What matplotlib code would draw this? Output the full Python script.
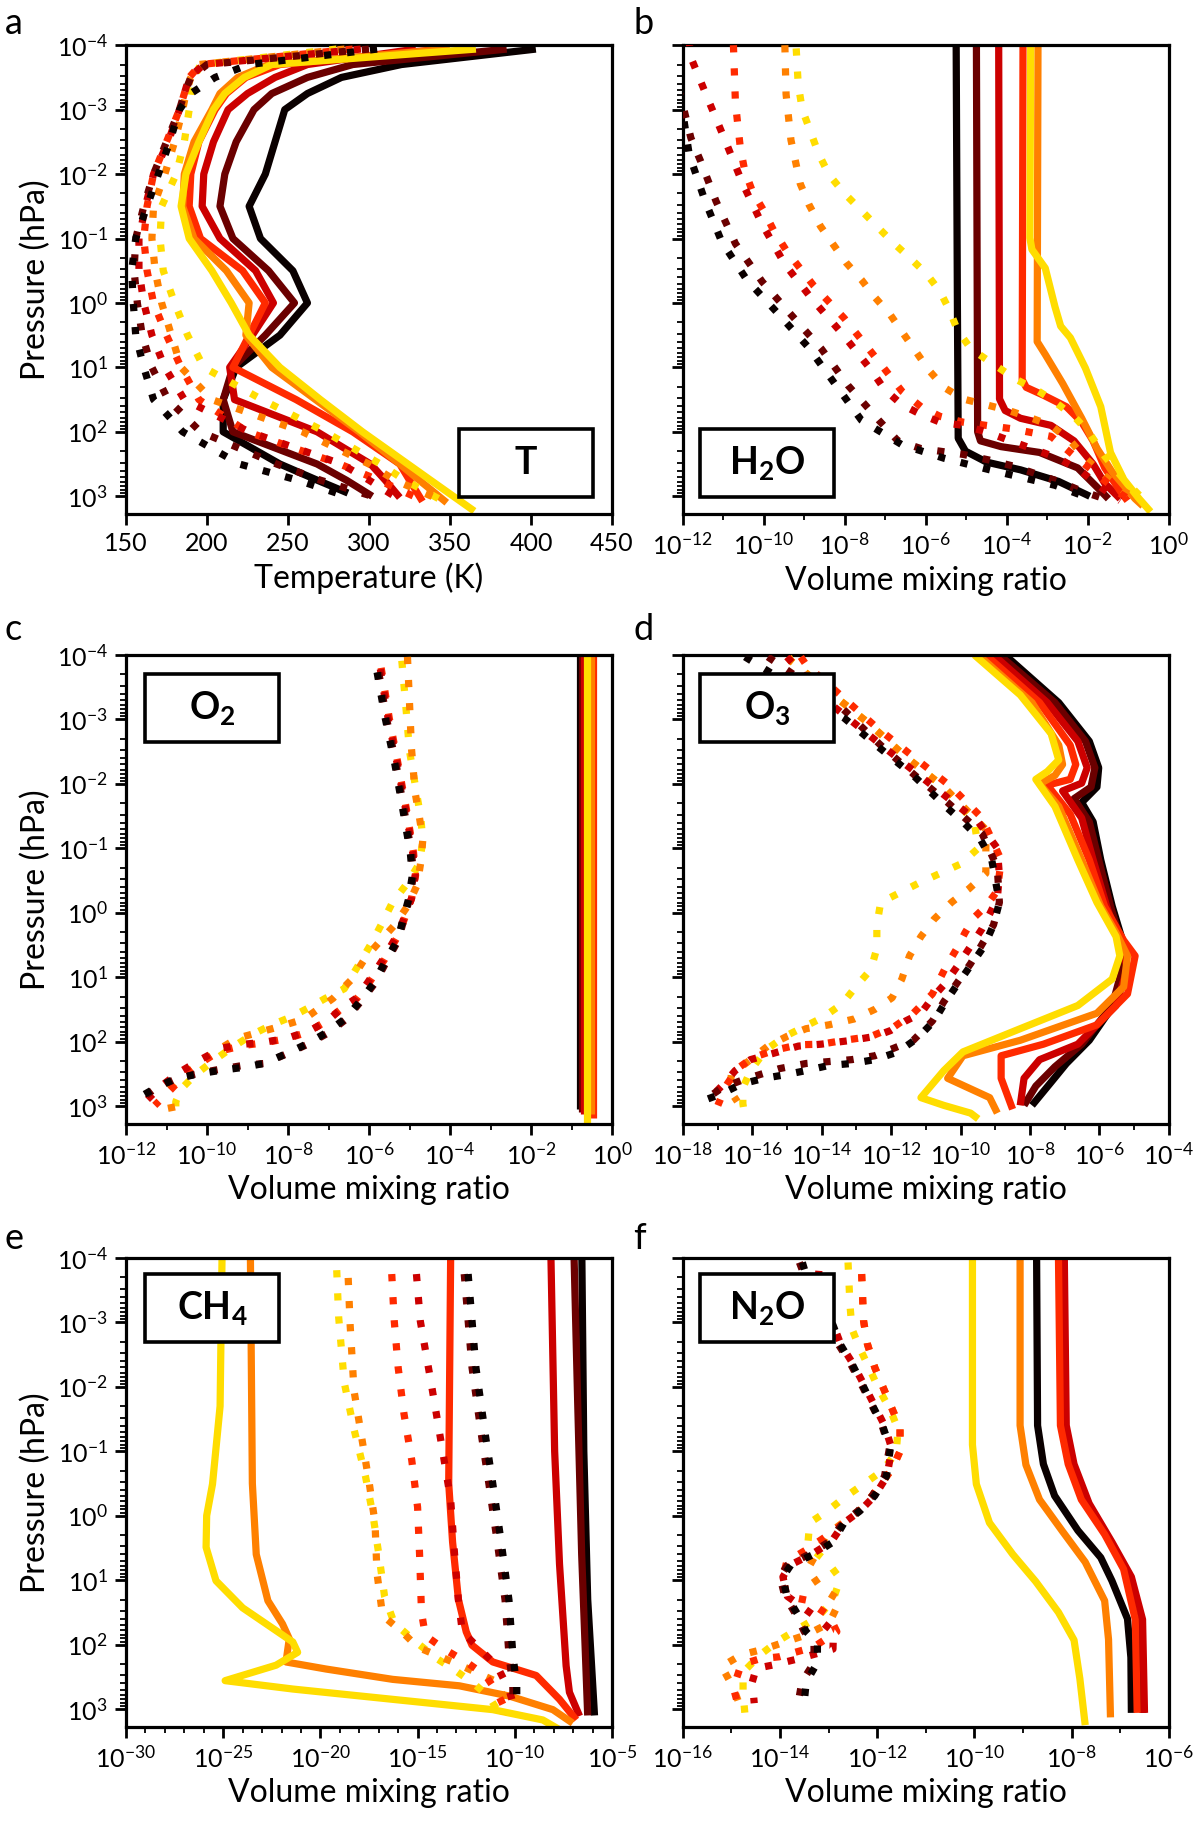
import matplotlib
matplotlib.use("Agg")
import matplotlib.pyplot as plt
import numpy as np
from matplotlib.patches import Rectangle
from matplotlib.ticker import LogLocator, NullFormatter

plt.rcParams["font.family"] = ["Lato", "DejaVu Sans"]
plt.rcParams["mathtext.fontset"] = "custom"
plt.rcParams["mathtext.rm"] = "Lato"
plt.rcParams["mathtext.it"] = "Lato:italic"
plt.rcParams["mathtext.bf"] = "Lato:bold"

# line colours, coolest (black) to hottest (yellow)
COLORS = ["#0a0000", "#6b0000", "#cc0000", "#ff2a00", "#ff8000", "#ffdd00"]

# ---- panel a: temperature (K) on a shared log10 pressure grid ----
T_LOGP = [-3.94, -3.7, -3.5, -3.25, -3.0, -2.5, -2.0, -1.5, -1.0, -0.5,
          0.0, 0.5, 1.0, 1.5, 2.0, 2.5, 2.75]
T_SOLID = [
    [403, 320, 283, 262, 248, 242, 236, 226, 233, 253, 262, 245, 218, 210, 210, 245, 268],
    [385, 290, 262, 240, 229, 218, 211, 208, 216, 238, 254, 236, 216, 210, 216, 268, 286],
    [329, 262, 242, 225, 213, 204, 198, 197, 208, 230, 241, 228, 214, 217, 268, 301, 310],
    [345, 245, 224, 212, 205, 195, 190, 189, 196, 222, 236, 226, 216, 255, 290, 319, 325],
    [350, 238, 219, 208, 203, 192, 186, 185, 192, 212, 226, 224, 240, 267, 294, 319, 331],
    [366, 240, 223, 211, 204, 195, 187, 184, 189, 203, 215, 226, 245, 270, 296, 324, 338],
]
T_SOLID_SURF = [(2.95, 287), (3.0, 302), (3.02, 319), (3.08, 333), (3.1, 348), (3.23, 365)]
T_DOTTED = [
    [305, 226, 205, 190, 183, 177, 170, 163, 156, 153.5, 154.5, 156, 161, 167, 185, 220, 256],
    [300, 200, 190, 186, 183, 175, 167, 161, 156, 155, 157, 160, 166, 176, 196, 243, 270],
    [295, 198, 189, 186, 183, 176, 167, 162, 158, 158, 161, 166, 174, 186, 226, 283, 300],
    [290, 196, 189, 186, 183, 175, 167, 163, 161, 163, 167, 175, 184, 195, 225, 282, 306],
    [285, 195, 190, 187, 185, 180, 174, 167, 166, 168, 172, 178, 184, 203, 259, 300, 316],
    [280, 196, 192, 190, 189, 186, 181, 172, 171, 173, 180, 188, 198, 234, 273, 307, 322],
]
T_DOTTED_SURF = [(3.0, 286), (3.0, 302), (3.02, 317), (3.05, 332), (3.08, 346), (3.12, 349)]

# ---- panels b-f: (log10 pressure [hPa], log10 volume mixing ratio) ----
H2O_SOLID = [
    [(-4, -5.25), (0, -5.22), (2.1, -5.2), (2.3, -5.02), (2.47, -4.5), (2.59, -3.66), (2.77, -2.72), (3.0, -1.95)],
    [(-4, -4.75), (2.0, -4.72), (2.14, -4.65), (2.23, -4.14), (2.32, -3.19), (2.56, -2.25), (2.86, -1.77), (3.04, -1.49)],
    [(-4, -4.2), (1.49, -4.18), (1.67, -4.04), (1.79, -3.66), (1.9, -2.91), (2.14, -2.34), (2.5, -1.87), (2.8, -1.58), (3.04, -1.2)],
    [(-4, -3.6), (1.19, -3.62), (1.31, -3.52), (1.43, -3.1), (1.61, -2.53), (1.85, -2.15), (2.14, -1.87), (2.56, -1.58), (2.92, -1.2), (3.07, -1.02)],
    [(-4, -3.23), (0.6, -3.25), (0.8, -3.05), (1.25, -2.62), (1.79, -2.15), (2.26, -1.77), (2.62, -1.4), (3.04, -0.83), (3.15, -0.64)],
    [(-4, -3.41), (-1.01, -3.43), (-0.83, -3.38), (-0.54, -3.05), (0.06, -2.81), (0.36, -2.67), (0.54, -2.43), (1.01, -2.06),
     (1.61, -1.68), (2.32, -1.44), (2.74, -1.11), (3.04, -0.73), (3.24, -0.45)],
]
H2O_DOTTED = [
    [(-3.5, -12.3), (-2.95, -12.0), (-2.3, -11.84), (-1.6, -11.46), (-0.95, -11.04), (-0.36, -10.42), (0.15, -9.67), (0.68, -8.91),
     (1.25, -8.25), (1.82, -7.59), (2.2, -6.59), (2.41, -5.55), (2.59, -4.42), (2.83, -2.81), (3.04, -1.92)],
    [(-4, -12.5), (-3.2, -12.05), (-2.56, -11.8), (-2.2, -11.56), (-1.58, -11.18), (-0.92, -10.7), (-0.33, -10.04), (0.18, -9.33),
     (0.71, -8.58), (1.28, -7.92), (1.82, -7.16), (2.14, -6.69), (2.26, -6.12), (2.35, -5.08), (2.44, -4.42), (2.53, -3.85),
     (2.65, -3.29), (2.77, -2.72), (2.92, -2.15), (3.04, -1.58)],
    [(-4.1, -11.85), (-3.81, -11.8), (-3.15, -11.37), (-2.5, -10.94), (-1.85, -10.52), (-1.22, -10.04), (-0.6, -9.48),
     (-0.06, -8.81), (0.48, -8.06), (1.04, -7.35), (1.34, -7.02), (1.58, -6.59), (1.73, -6.12), (1.85, -5.65), (1.9, -5.08),
     (2.0, -4.51), (2.11, -4.04), (2.26, -3.38), (2.41, -2.72), (2.62, -2.15), (2.86, -1.68), (3.07, -1.2)],
    [(-4.0, -10.75), (-3.1, -10.7), (-2.41, -10.58), (-2.05, -10.47), (-1.73, -10.28), (-1.43, -10.0), (-1.13, -9.76),
     (-0.8, -9.43), (-0.27, -8.77), (0.24, -8.01), (0.83, -7.26), (1.37, -6.59), (1.61, -6.12), (1.76, -5.65), (1.85, -5.08),
     (1.9, -4.51), (1.95, -3.9), (2.07, -2.91), (2.37, -2.34), (2.66, -1.77), (2.96, -1.2), (3.07, -0.92)],
    [(-4.0, -9.48), (-3.24, -9.45), (-2.53, -9.33), (-1.85, -9.1), (-1.52, -8.88), (-1.19, -8.6), (-0.92, -8.3), (-0.62, -7.96),
     (-0.36, -7.59), (-0.09, -7.26), (0.18, -6.88), (0.48, -6.55), (0.74, -6.26), (1.04, -5.93), (1.31, -5.55), (1.49, -5.08),
     (1.58, -4.51), (1.67, -3.95), (1.79, -3.38), (1.9, -2.91), (2.14, -2.43), (2.41, -2.06), (2.68, -1.58), (2.92, -1.11),
     (3.07, -0.73)],
    [(-3.95, -9.2), (-3.39, -9.15), (-3.0, -9.05), (-2.68, -8.86), (-2.32, -8.65), (-1.99, -8.39), (-1.7, -8.01), (-1.46, -7.63),
     (-1.19, -7.21), (-0.92, -6.78), (-0.68, -6.36), (-0.45, -5.98), (-0.18, -5.65), (0.12, -5.41), (0.42, -5.22), (0.71, -4.89),
     (0.95, -4.33), (1.19, -3.76), (1.34, -3.29), (1.49, -2.91), (1.76, -2.34), (2.02, -1.96), (2.38, -1.58), (2.74, -1.11),
     (3.04, -0.64), (3.18, -0.5)],
]

O2_SOLID = [
    [(-4, -0.79), (3.05, -0.79)],
    [(-4, -0.75), (3.1, -0.75)],
    [(-4, -0.7), (3.12, -0.7)],
    [(-4, -0.47), (3.18, -0.47)],
    [(-4, -0.52), (3.12, -0.52)],
    [(-4, -0.62), (3.35, -0.62)],
]
O2_DOTTED = [
    [(-3.73, -5.8), (-3.02, -5.6), (-2.3, -5.36), (-1.62, -5.17), (-0.93, -4.98), (-0.58, -4.93), (-0.22, -5.02), (0.11, -5.16),
     (0.43, -5.3), (0.76, -5.6), (1.09, -5.88), (1.36, -6.2), (1.65, -6.6), (1.86, -7.05), (2.04, -7.55), (2.19, -8.05),
     (2.34, -8.6), (2.4, -9.1), (2.45, -9.7), (2.5, -10.2), (2.58, -10.8), (2.73, -11.3), (2.93, -11.85)],
    [(-3.73, -5.76), (-3.02, -5.57), (-2.3, -5.33), (-1.62, -5.14), (-0.93, -4.95), (-0.58, -4.9), (-0.22, -5.0), (0.11, -5.14),
     (0.43, -5.28), (0.76, -5.57), (1.09, -5.85), (1.36, -6.18), (1.65, -6.56), (1.86, -6.99), (2.04, -7.51), (2.19, -8.03),
     (2.34, -8.59), (2.37, -9.11), (2.43, -9.68), (2.49, -10.2), (2.58, -10.77), (2.73, -11.29), (2.93, -11.7)],
    [(-3.78, -5.72), (-3.02, -5.53), (-2.3, -5.3), (-1.62, -5.1), (-0.93, -4.92), (-0.58, -4.86), (-0.22, -4.95), (0.32, -5.28),
     (0.73, -5.66), (1.09, -6.04), (1.33, -6.32), (1.45, -6.61), (1.68, -7.03), (1.83, -7.46), (1.95, -8.03), (2.01, -8.59),
     (2.04, -9.07), (2.1, -9.63), (2.28, -10.16), (2.49, -10.72), (2.7, -11.15), (2.99, -11.62)],
    [(-3.8, -5.7), (-3.02, -5.5), (-2.3, -5.28), (-1.62, -5.08), (-0.93, -4.9), (-0.58, -4.85), (-0.22, -4.95), (0.32, -5.25),
     (0.73, -5.62), (1.09, -6.0), (1.33, -6.3), (1.5, -6.7), (1.7, -7.1), (1.85, -7.5), (1.95, -8.0), (2.02, -8.6),
     (2.06, -9.1), (2.15, -9.7), (2.35, -10.2), (2.55, -10.6), (2.75, -10.9), (2.99, -11.29)],
    [(-3.97, -5.05), (-3.26, -5.0), (-2.54, -4.95), (-1.86, -4.86), (-1.5, -4.76), (-1.14, -4.67), (-0.79, -4.72), (-0.43, -4.81),
     (-0.1, -5.05), (0.2, -5.38), (0.43, -5.71), (0.7, -6.09), (1.03, -6.42), (1.33, -6.89), (1.65, -7.6), (1.77, -8.22),
     (1.86, -8.74), (1.95, -9.26), (2.13, -9.73), (2.34, -10.2), (2.55, -10.68), (2.76, -10.96), (3.08, -10.86)],
    [(-3.91, -5.19), (-3.2, -5.09), (-2.51, -5.0), (-1.8, -4.81), (-1.47, -4.72), (-1.11, -4.67), (-0.76, -4.76), (-0.46, -5.05),
     (-0.16, -5.42), (0.14, -5.66), (0.43, -5.9), (0.73, -6.18), (1.18, -6.61), (1.33, -7.08), (1.45, -7.41), (1.62, -7.93),
     (1.74, -8.4), (1.89, -8.88), (2.1, -9.4), (2.31, -9.87), (2.52, -10.3), (2.73, -10.63), (2.93, -10.77), (3.17, -10.77)],
]

O3_SOLID = [
    [(-4, -8.72), (-3.26, -7.17), (-2.66, -6.29), (-2.25, -6.02), (-1.95, -6.07), (-1.71, -6.51), (-1.41, -6.18), (-0.82, -5.96),
     (-0.1, -5.63), (0.49, -5.3), (0.79, -5.24), (1.38, -5.52), (1.98, -6.29), (2.34, -6.95), (2.63, -7.39), (2.99, -7.94)],
    [(-4, -8.88), (-3.26, -7.28), (-2.66, -6.4), (-2.25, -6.13), (-1.95, -6.24), (-1.77, -6.73), (-1.41, -6.29), (-0.82, -6.02),
     (-0.1, -5.68), (0.49, -5.35), (0.79, -5.3), (1.44, -5.63), (2.04, -6.51), (2.39, -7.28), (2.69, -7.83), (2.99, -8.17)],
    [(-4, -9.05), (-3.26, -7.5), (-2.66, -6.62), (-2.25, -6.35), (-2.01, -6.51), (-1.89, -7.06), (-1.47, -6.51), (-0.82, -6.18),
     (-0.1, -5.79), (0.49, -5.41), (0.85, -5.19), (1.44, -5.52), (2.04, -6.62), (2.28, -7.72), (2.57, -8.17), (2.99, -8.28)],
    [(-4, -9.27), (-3.26, -7.72), (-2.6, -6.84), (-2.3, -6.68), (-2.07, -6.84), (-1.98, -7.5), (-1.53, -6.84), (-0.82, -6.29),
     (-0.1, -5.85), (0.43, -5.3), (0.67, -4.97), (1.26, -5.19), (1.74, -6.07), (2.04, -7.61), (2.22, -8.83), (2.57, -8.83),
     (3.05, -8.5)],
    [(-4, -9.49), (-3.26, -7.94), (-2.6, -7.17), (-2.3, -7.06), (-2.13, -7.28), (-2.0, -7.72), (-1.65, -7.17), (-0.82, -6.51),
     (-0.1, -5.96), (0.31, -5.52), (0.67, -5.19), (1.15, -5.3), (1.56, -6.07), (1.98, -8.28), (2.22, -9.93), (2.57, -10.37),
     (2.87, -9.16), (3.11, -8.94)],
    [(-4, -9.6), (-3.38, -8.28), (-2.78, -7.39), (-2.37, -7.17), (-2.19, -7.5), (-2.07, -7.83), (-1.65, -7.28), (-0.82, -6.62),
     (-0.16, -6.07), (0.37, -5.52), (0.67, -5.41), (1.03, -5.63), (1.44, -6.62), (1.8, -8.28), (2.16, -9.93), (2.45, -10.48),
     (2.87, -11.14), (2.99, -10.48), (3.11, -9.71), (3.2, -9.49)],
]
O3_DOTTED = [
    [(-3.97, -16.21), (-3.02, -13.35), (-2.57, -12.36), (-2.13, -11.36), (-1.62, -10.37), (-1.41, -9.93), (-1.14, -9.43),
     (-0.82, -9.1), (-0.16, -8.88), (0.19, -9.05), (0.52, -9.32), (0.82, -9.71), (1.12, -10.1), (1.38, -10.43), (1.68, -10.76),
     (1.95, -11.25), (2.16, -11.8), (2.28, -12.47), (2.34, -13.13), (2.37, -13.79), (2.45, -14.45), (2.51, -15.0),
     (2.57, -15.66), (2.66, -16.32), (2.81, -16.88), (2.93, -17.48)],
    [(-3.97, -15.55), (-3.2, -13.46), (-2.6, -12.3), (-2.13, -11.31), (-1.71, -10.37), (-1.23, -9.38), (-0.7, -8.94),
     (-0.16, -8.88), (0.19, -9.05), (0.49, -9.38), (0.79, -9.71), (1.09, -10.1), (1.38, -10.48), (1.68, -10.81), (1.98, -11.36),
     (2.1, -11.91), (2.22, -12.47), (2.28, -13.13), (2.31, -13.79), (2.34, -14.45), (2.42, -15.22), (2.51, -15.77),
     (2.6, -16.3), (2.72, -16.88), (2.93, -17.43)],
    [(-3.97, -15.0), (-3.26, -13.79), (-2.78, -12.69), (-2.3, -11.58), (-1.83, -10.48), (-1.41, -9.49), (-1.0, -8.94),
     (-0.58, -8.88), (-0.22, -8.94), (0.02, -9.16), (0.25, -9.38), (0.52, -9.71), (0.79, -10.04), (1.09, -10.43),
     (1.32, -10.81), (1.56, -11.14), (1.68, -11.58), (1.83, -12.02), (1.92, -12.47), (1.98, -13.13), (2.04, -14.01),
     (2.07, -14.67), (2.19, -15.44), (2.28, -16.05), (2.45, -16.49), (2.69, -16.88), (2.93, -17.32)],
    [(-3.97, -14.6), (-3.85, -14.45), (-3.43, -13.57), (-2.9, -12.47), (-2.42, -11.36), (-1.95, -10.26), (-1.47, -9.38),
     (-0.82, -8.83), (-0.34, -8.94), (-0.1, -9.27), (0.07, -9.6), (0.31, -9.87), (0.55, -10.1), (0.85, -10.43), (1.26, -10.81),
     (1.56, -11.36), (1.77, -11.91), (1.92, -12.58), (1.98, -13.35), (2.04, -14.01), (2.05, -14.67), (2.13, -15.33),
     (2.25, -15.99), (2.42, -16.43), (2.69, -16.76), (2.99, -16.99)],
    [(-3.97, -14.95), (-3.91, -14.89), (-3.43, -13.79), (-2.96, -12.69), (-2.42, -11.58), (-1.95, -10.48), (-1.29, -9.27),
     (-0.61, -9.27), (-0.37, -9.76), (-0.16, -10.26), (0.1, -10.76), (0.37, -11.14), (0.67, -11.47), (1.03, -11.69),
     (1.32, -11.97), (1.5, -12.47), (1.65, -13.07), (1.74, -13.79), (1.8, -14.45), (1.92, -15.0), (2.07, -15.55),
     (2.28, -16.05), (2.51, -16.6), (2.75, -16.65), (2.93, -16.43)],
    [(-3.97, -14.95), (-3.91, -14.89), (-3.43, -13.79), (-2.96, -12.69), (-2.42, -11.58), (-1.95, -10.48), (-1.4, -9.6),
     (-1.0, -9.49), (-0.76, -9.98), (-0.61, -10.59), (-0.46, -11.2), (-0.16, -12.3), (0.19, -12.41), (0.55, -12.41),
     (0.88, -12.58), (1.15, -13.02), (1.41, -13.4), (1.62, -13.95), (1.77, -14.5), (1.92, -15.06), (2.13, -15.61),
     (2.45, -16.05), (2.72, -16.27), (2.96, -16.27), (3.17, -16.21)],
]

CH4_SOLID = [
    [(-4, -6.55), (-1.0, -6.45), (1.3, -6.25), (3.1, -5.9)],
    [(-4, -6.95), (-1.7, -6.76), (0.6, -6.56), (3.1, -6.25)],
    [(-4, -8.14), (-1.0, -7.95), (0.75, -7.7), (2.33, -7.36), (2.74, -7.19), (3.11, -6.67)],
    [(-4, -13.3), (-0.5, -13.4), (0.41, -13.2), (1.3, -12.9), (1.8, -12.5), (2.01, -12.2), (2.27, -11.13), (2.48, -8.9),
     (2.85, -7.7), (3.17, -6.84)],
    [(-4, -23.6), (-0.5, -23.5), (0.6, -23.3), (1.32, -22.7), (1.68, -21.95), (1.91, -21.6), (2.27, -21.77), (2.38, -19.7),
     (2.54, -16.28), (2.64, -12.85), (2.8, -10.27), (3.01, -8.04), (3.22, -7.02)],
    [(-4, -25.06), (-1.7, -25.16), (-0.49, -25.55), (0.0, -25.85), (0.49, -25.88), (1.01, -25.37), (1.43, -24.0),
     (1.96, -21.42), (2.12, -21.17), (2.32, -22.28), (2.56, -24.9), (2.69, -21.42), (2.85, -16.28), (3.01, -11.13),
     (3.17, -8.56), (3.38, -7.36)],
]
CH4_DOTTED = [
    [(-3.75, -12.4), (-2.3, -12.0), (-1.22, -11.5), (-0.49, -11.13), (0.41, -10.7), (1.31, -10.3), (2.16, -10.1),
     (2.64, -9.9), (2.91, -9.9)],
    [(-3.75, -12.6), (-2.3, -12.2), (-1.22, -11.7), (-0.49, -11.33), (0.41, -10.9), (1.31, -10.5), (2.16, -10.3),
     (2.64, -10.1), (2.91, -10.1)],
    [(-3.75, -15.06), (-3.02, -14.86), (-2.0, -14.27), (-0.98, -13.7), (-0.25, -13.3), (0.59, -13.1), (1.31, -12.9),
     (1.8, -12.7), (2.04, -11.9), (2.34, -10.9), (2.7, -10.3), (3.0, -10.0)],
    [(-3.75, -16.33), (-3.02, -16.2), (-2.3, -16.0), (-1.58, -15.7), (-0.86, -15.3), (-0.13, -15.0), (0.59, -14.9),
     (1.5, -14.8), (1.86, -14.6), (2.07, -13.63), (2.28, -12.45), (2.49, -11.47), (2.76, -10.88), (3.0, -10.5)],
    [(-3.69, -18.57), (-2.96, -18.47), (-1.94, -18.27), (-1.22, -17.88), (-0.49, -17.48), (0.11, -17.19), (0.89, -17.09),
     (1.55, -16.8), (1.8, -15.8), (2.04, -15.0), (2.31, -12.88), (2.58, -10.9), (2.88, -10.5), (3.09, -10.6)],
    [(-3.81, -19.16), (-3.08, -19.06), (-2.06, -18.77), (-1.34, -18.27), (-0.61, -17.68), (0.0, -17.29), (0.59, -17.0),
     (1.25, -16.7), (1.67, -16.2), (1.98, -15.0), (2.22, -14.0), (2.4, -13.07), (2.61, -12.09), (2.82, -11.3), (3.12, -10.7)],
]

N2O_SOLID = [
    [(-4, -8.72), (-1.4, -8.7), (-0.8, -8.58), (-0.31, -8.35), (0.23, -7.87), (0.65, -7.4), (1.01, -7.17), (1.6, -6.85),
     (2.2, -6.78), (3.06, -6.77)],
    [(-4, -8.2), (-1.4, -8.16), (-0.8, -8.0), (-0.19, -7.68), (0.41, -7.2), (0.95, -6.8), (1.61, -6.57), (3.06, -6.53)],
    [(-4, -8.15), (-1.4, -8.11), (-0.8, -7.95), (-0.19, -7.64), (0.41, -7.17), (0.95, -6.77), (1.61, -6.54), (3.06, -6.5)],
    [(-4, -8.27), (-1.4, -8.23), (-0.8, -8.07), (-0.25, -7.8), (0.29, -7.32), (0.83, -6.93), (1.61, -6.69), (3.06, -6.65)],
    [(-4, -9.06), (-1.4, -9.06), (-0.79, -8.94), (-0.25, -8.66), (0.24, -8.19), (0.72, -7.72), (1.32, -7.32), (1.92, -7.24),
     (3.13, -7.2)],
    [(-4, -10.04), (-1.1, -10.04), (-0.49, -9.96), (0.11, -9.69), (0.6, -9.21), (1.02, -8.74), (1.5, -8.27), (1.93, -7.95),
     (2.53, -7.83), (3.25, -7.72)],
]
N2O_DOTTED = [
    [(-3.93, -13.54), (-3.33, -13.3), (-2.96, -12.91), (-2.66, -12.76), (-2.36, -12.52), (-2.0, -12.28), (-1.7, -12.09),
     (-1.4, -11.89), (-1.04, -11.73), (-0.61, -11.81), (-0.31, -12.05), (-0.07, -12.36), (0.11, -12.68), (0.41, -12.91),
     (0.6, -13.31), (0.77, -13.78), (0.95, -13.94), (1.25, -13.86), (1.55, -13.62), (1.8, -13.46), (1.98, -13.23),
     (2.28, -13.23), (2.58, -13.46), (2.88, -13.5)],
    [(-3.93, -13.6), (-3.33, -13.3), (-2.96, -12.95), (-2.66, -12.8), (-2.36, -12.55), (-2.0, -12.3), (-1.7, -12.1),
     (-1.4, -11.9), (-1.04, -11.75), (-0.61, -11.85), (-0.31, -12.1), (-0.07, -12.4), (0.11, -12.7), (0.41, -13.0),
     (0.6, -13.4), (0.77, -13.85), (0.95, -14.0), (1.25, -13.9), (1.55, -13.66), (1.8, -13.5), (1.98, -13.3),
     (2.28, -13.3), (2.58, -13.55), (2.88, -13.62)],
    [(-3.8, -13.2), (-3.33, -13.25), (-2.96, -12.9), (-2.66, -12.75), (-2.36, -12.5), (-2.0, -12.25), (-1.7, -12.05),
     (-1.4, -11.85), (-1.04, -11.7), (-0.61, -11.8), (-0.31, -12.05), (-0.07, -12.36), (0.11, -12.68), (0.41, -12.95),
     (0.6, -13.35), (0.77, -13.8), (0.95, -13.94), (1.25, -13.85), (1.55, -13.3), (1.8, -12.9), (2.07, -12.91),
     (2.22, -13.62), (2.31, -14.1), (2.37, -14.49), (2.58, -14.57), (2.91, -14.53)],
    [(-3.75, -12.32), (-3.02, -12.28), (-2.66, -12.2), (-2.3, -12.05), (-1.94, -11.85), (-1.58, -11.65), (-1.34, -11.53),
     (-1.0, -11.53), (-0.73, -11.69), (-0.13, -12.28), (0.11, -12.68), (0.29, -12.99), (0.53, -13.46), (0.71, -13.86),
     (0.95, -13.94), (1.25, -13.86), (1.31, -13.46), (1.55, -12.99), (1.8, -12.83), (2.04, -13.31), (2.19, -14.02),
     (2.22, -14.41), (2.31, -14.8), (2.67, -14.96), (3.0, -14.84)],
    [(-3.75, -12.32), (-3.02, -12.28), (-2.66, -12.2), (-2.3, -12.05), (-1.94, -11.85), (-1.58, -11.65), (-1.34, -11.53),
     (-1.0, -11.53), (-0.73, -11.69), (-0.13, -12.28), (0.29, -13.03), (0.83, -13.43), (1.13, -13.15), (1.31, -12.76),
     (1.67, -12.99), (1.85, -13.46), (1.95, -13.86), (2.07, -14.33), (2.16, -14.8), (2.34, -15.2), (2.67, -14.96),
     (3.0, -14.8)],
    [(-3.93, -12.6), (-3.27, -12.56), (-2.9, -12.52), (-2.6, -12.36), (-2.3, -12.17), (-1.97, -11.97), (-1.64, -11.73),
     (-1.34, -11.57), (-0.98, -11.61), (-0.7, -11.89), (-0.49, -12.28), (-0.28, -12.68), (-0.07, -13.03), (0.11, -13.39),
     (0.47, -13.43), (0.71, -13.03), (0.98, -12.76), (1.31, -12.91), (1.58, -13.23), (1.77, -13.66), (1.95, -14.05),
     (2.16, -14.41), (2.43, -14.76), (2.76, -14.76), (3.09, -14.72)],
]

LW = 5.2
DOT = (0, (1.0, 2.2))
LABEL_SIZE = 23
TICK_SIZE = 18


def draw_lines(ax, solid, dotted, log_x=True):
    for color, line in zip(COLORS, solid):
        lp, v = np.array(line, dtype=float).T
        x = 10 ** v if log_x else v
        ax.plot(x, 10 ** lp, color=color, lw=LW, solid_capstyle="butt",
                solid_joinstyle="round", zorder=2)
    for color, line in reversed(list(zip(COLORS, dotted))):
        lp, v = np.array(line, dtype=float).T
        x = 10 ** v if log_x else v
        ax.plot(x, 10 ** lp, color=color, lw=LW, ls=DOT,
                dash_capstyle="butt", zorder=3)


def grid_lines(values, surf):
    return [list(zip(T_LOGP, vals)) + [s] for vals, s in zip(values, surf)]


def style_axes(ax, left_col):
    ax.set_yscale("log")
    ax.set_ylim(1.9e3, 1e-4)
    ax.set_yticks([10.0 ** k for k in range(-4, 4)])
    ax.yaxis.set_minor_locator(LogLocator(base=10, subs=np.arange(2, 10), numticks=20))
    ax.yaxis.set_minor_formatter(NullFormatter())
    for s in ax.spines.values():
        s.set_linewidth(2.3)
    ax.tick_params(which="major", direction="out", length=8, width=2.0,
                   labelsize=TICK_SIZE, pad=5)
    ax.tick_params(which="minor", direction="out", length=4, width=1.3)
    if left_col:
        ax.set_ylabel("Pressure (hPa)", fontsize=LABEL_SIZE, labelpad=4)
    else:
        ax.tick_params(axis="y", labelleft=False)


def log_xaxis(ax, lo, hi, step):
    ax.set_xscale("log")
    ax.set_xlim(10.0 ** lo, 10.0 ** hi)
    ax.set_xticks([10.0 ** k for k in range(lo, hi + 1, step)])
    minors = [10.0 ** k for k in range(lo, hi + 1) if (k - lo) % step != 0]
    ax.set_xticks(minors, minor=True)
    ax.xaxis.set_minor_formatter(NullFormatter())
    ax.set_xlabel("Volume mixing ratio", fontsize=LABEL_SIZE, labelpad=5)


def label_box(ax, x0, y0, text):
    w, h = 0.276, 0.145
    ax.add_patch(Rectangle((x0, y0), w, h, transform=ax.transAxes, facecolor="white",
                           edgecolor="black", lw=2.6, zorder=10, clip_on=False))
    ax.text(x0 + w / 2, y0 + h / 2, text, transform=ax.transAxes, ha="center",
            va="center", fontsize=27, fontweight="bold", zorder=11)


fig = plt.figure(figsize=(12, 18.3), dpi=100)
W, H = 0.405, 0.2563
LEFT = [0.105, 0.569]
BOTTOM = [0.719, 0.3858, 0.0563]

ax_a = fig.add_axes([LEFT[0], BOTTOM[0], W, H])
ax_b = fig.add_axes([LEFT[1], BOTTOM[0], W, H])
ax_c = fig.add_axes([LEFT[0], BOTTOM[1], W, H])
ax_d = fig.add_axes([LEFT[1], BOTTOM[1], W, H])
ax_e = fig.add_axes([LEFT[0], BOTTOM[2], W, H])
ax_f = fig.add_axes([LEFT[1], BOTTOM[2], W, H])

# a: temperature
draw_lines(ax_a, grid_lines(T_SOLID, T_SOLID_SURF), grid_lines(T_DOTTED, T_DOTTED_SURF), log_x=False)
style_axes(ax_a, True)
ax_a.set_xlim(150, 450)
ax_a.set_xticks(range(150, 451, 50))
ax_a.set_xlabel("Temperature (K)", fontsize=LABEL_SIZE, labelpad=5)
label_box(ax_a, 0.685, 0.036, "T")

draw_lines(ax_b, H2O_SOLID, H2O_DOTTED)
style_axes(ax_b, False)
log_xaxis(ax_b, -12, 0, 2)
label_box(ax_b, 0.035, 0.036, r"$\mathbf{H_2O}$")

draw_lines(ax_c, O2_SOLID, O2_DOTTED)
style_axes(ax_c, True)
log_xaxis(ax_c, -12, 0, 2)
label_box(ax_c, 0.039, 0.814, r"$\mathbf{O_2}$")

draw_lines(ax_d, O3_SOLID, O3_DOTTED)
style_axes(ax_d, False)
log_xaxis(ax_d, -18, -4, 2)
label_box(ax_d, 0.035, 0.814, r"$\mathbf{O_3}$")

draw_lines(ax_e, CH4_SOLID, CH4_DOTTED)
style_axes(ax_e, True)
log_xaxis(ax_e, -30, -5, 5)
label_box(ax_e, 0.039, 0.82, r"$\mathbf{CH_4}$")

draw_lines(ax_f, N2O_SOLID, N2O_DOTTED)
style_axes(ax_f, False)
log_xaxis(ax_f, -16, -6, 2)
label_box(ax_f, 0.035, 0.82, r"$\mathbf{N_2O}$")

for letter, x, y in [("a", 0.004, 0.9814), ("b", 0.528, 0.9814), ("c", 0.004, 0.650),
                     ("d", 0.528, 0.650), ("e", 0.004, 0.3175), ("f", 0.528, 0.3175)]:
    fig.text(x, y, letter, fontsize=26, va="baseline", ha="left")

fig.savefig("out.png", dpi=100)
